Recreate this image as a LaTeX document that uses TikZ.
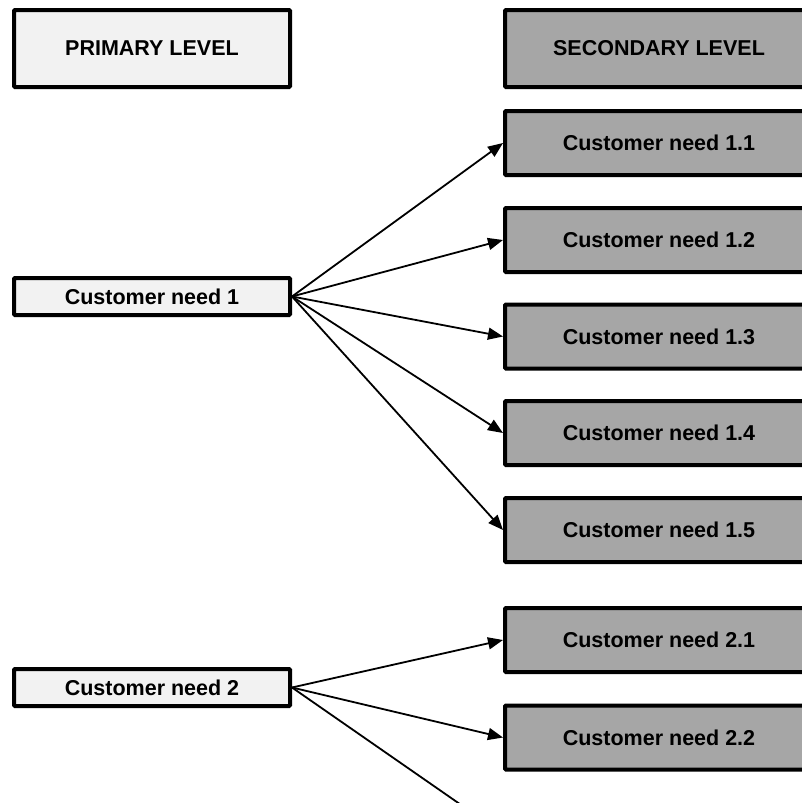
\documentclass[tikz,border=0pt]{standalone}
\usepackage{fontspec}
\setmainfont{Liberation Sans}
\usetikzlibrary{arrows.meta}

\definecolor{primfill}{HTML}{F2F2F2}
\definecolor{secfill}{HTML}{A6A6A6}

\tikzset{
  box/.style={draw=black, line width=4pt, rounded corners=1pt,
    inner sep=0pt, font=\fontsize{21.5}{25}\selectfont\bfseries},
  primbox/.style={box, fill=primfill, minimum width=276pt},
  secbox/.style={box, fill=secfill, minimum width=308pt, minimum height=64pt},
  link/.style={line width=1.8pt, -{Triangle[length=15pt,width=12pt]}}
}

\begin{document}
\begin{tikzpicture}[x=1pt, y=-1pt]
  \useasboundingbox (0,0) rectangle (802,803);
  \clip (0,0) rectangle (802,803);

  % column headers
  \node[primbox, minimum height=77pt] (hprim) at (152,48.5) {PRIMARY LEVEL};
  \node[secbox, minimum height=77pt] (hsec) at (659,48.5) {SECONDARY LEVEL};

  % primary needs
  \node[primbox, minimum height=37pt] (n1) at (152,296.5) {Customer need 1};
  \node[primbox, minimum height=37pt] (n2) at (152,687.5) {Customer need 2};

  % secondary needs
  \node[secbox] (n11) at (659,143) {Customer need 1.1};
  \node[secbox] (n12) at (659,240) {Customer need 1.2};
  \node[secbox] (n13) at (659,336.5) {Customer need 1.3};
  \node[secbox] (n14) at (659,433) {Customer need 1.4};
  \node[secbox] (n15) at (659,530) {Customer need 1.5};
  \node[secbox] (n21) at (659,640) {Customer need 2.1};
  \node[secbox] (n22) at (659,737.5) {Customer need 2.2};
  \coordinate (n23) at (503,834);

  % connectors
  \foreach \t in {n11,n12,n13,n14,n15}
    \draw[link] (n1.east) -- (\t.west);
  \draw[link] (n2.east) -- (n21.west);
  \draw[link] (n2.east) -- (n22.west);
  \draw[link] (n2.east) -- (n23);
\end{tikzpicture}
\end{document}
